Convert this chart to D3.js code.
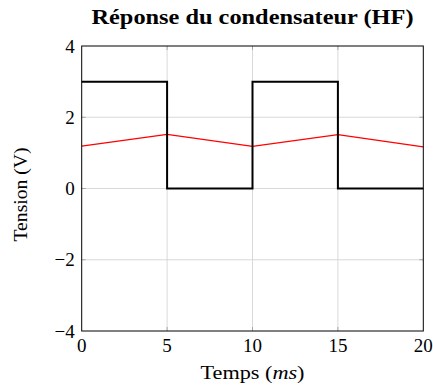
<!DOCTYPE html>
<html>
<head>
<meta charset="utf-8">
<script src="https://cdn.jsdelivr.net/npm/d3@7"></script>
<style>
  body { margin: 0; background: #fff; }
  text { font-family: "Liberation Serif", "Times New Roman", serif; fill: #000; }
</style>
</head>
<body>
<div id="chart"></div>
<script>
var title = "Réponse du condensateur (HF)"
var xTicks = [0, 5, 10, 15, 20]
var yTicks = [-4, -2, 0, 2, 4]

// signal d'entrée (créneau) : [temps ms, tension V]
var squareWave = [[0, 3], [5, 0], [10, 3], [15, 0], [20, 0]]
// tension aux bornes du condensateur
var capVoltage = [[0, 1.19], [5, 1.52], [10, 1.18], [15, 1.51], [20, 1.17]]

var width = 433, height = 387
var margin = {top: 46, right: 9.7, bottom: 56, left: 81.7}

var svg = d3.select("#chart").append("svg")
  .attr("width", width)
  .attr("height", height)

var x = d3.scaleLinear().domain([0, 20]).range([margin.left, width - margin.right])
var y = d3.scaleLinear().domain([-4, 4]).range([height - margin.bottom, margin.top])

var g = svg.append("g")

// grille
g.selectAll(".vgrid").data(xTicks.slice(1, -1)).enter().append("line")
  .attr("x1", d => x(d)).attr("x2", d => x(d))
  .attr("y1", y(4)).attr("y2", y(-4))
  .attr("stroke", "#cfcfcf").attr("stroke-width", 0.8)
g.selectAll(".hgrid").data(yTicks.slice(1, -1)).enter().append("line")
  .attr("y1", d => y(d)).attr("y2", d => y(d))
  .attr("x1", x(0)).attr("x2", x(20))
  .attr("stroke", "#cfcfcf").attr("stroke-width", 0.8)

// graduations (intérieures, des deux côtés)
var tl = 4
xTicks.slice(1, -1).forEach(function(t){
  [[y(-4), y(-4) - tl], [y(4), y(4) + tl]].forEach(function(s){
    g.append("line").attr("x1", x(t)).attr("x2", x(t)).attr("y1", s[0]).attr("y2", s[1])
      .attr("stroke", "#9a9a9a").attr("stroke-width", 0.8)
  })
})
yTicks.slice(1, -1).forEach(function(t){
  [[x(0), x(0) + tl], [x(20), x(20) - tl]].forEach(function(s){
    g.append("line").attr("y1", y(t)).attr("y2", y(t)).attr("x1", s[0]).attr("x2", s[1])
      .attr("stroke", "#9a9a9a").attr("stroke-width", 0.8)
  })
})

var line = d3.line().x(d => x(d[0])).y(d => y(d[1]))

g.append("path").datum(capVoltage)
  .attr("d", line)
  .attr("fill", "none").attr("stroke", "#ff0000").attr("stroke-width", 1.3)

g.append("path").datum(squareWave)
  .attr("d", line.curve(d3.curveStepAfter))
  .attr("fill", "none").attr("stroke", "#000").attr("stroke-width", 2)

// cadre
g.append("rect")
  .attr("x", x(0)).attr("y", y(4))
  .attr("width", x(20) - x(0)).attr("height", y(-4) - y(4))
  .attr("fill", "none").attr("stroke", "#000").attr("stroke-width", 1)

// étiquettes
g.selectAll(".xl").data(xTicks).enter().append("text")
  .attr("x", d => x(d)).attr("y", y(-4) + 21)
  .attr("text-anchor", "middle").style("font-size", "19px")
  .text(d => d)

g.selectAll(".yl").data(yTicks).enter().append("text")
  .attr("x", x(0) - 7).attr("y", d => y(d))
  .attr("dy", "0.35em")
  .attr("text-anchor", "end").style("font-size", "19px")
  .text(d => d < 0 ? "\u2212" + Math.abs(d) : d)

svg.append("text")
  .attr("x", (x(0) + x(20)) / 2).attr("y", 24)
  .attr("text-anchor", "middle")
  .attr("textLength", 322).attr("lengthAdjust", "spacingAndGlyphs")
  .style("font-size", "20px").style("font-weight", "bold")
  .text(title)

var xl = svg.append("text")
  .attr("x", (x(0) + x(20)) / 2).attr("y", 379)
  .attr("text-anchor", "middle").style("font-size", "19px")
  .attr("textLength", 104).attr("lengthAdjust", "spacingAndGlyphs")
xl.append("tspan").text("Temps (")
xl.append("tspan").style("font-style", "italic").text("ms")
xl.append("tspan").text(")")

svg.append("text")
  .attr("transform", "translate(27," + ((y(4) + y(-4)) / 2 + 6) + ") rotate(-90)")
  .attr("text-anchor", "middle").style("font-size", "19px")
  .attr("textLength", 94).attr("lengthAdjust", "spacingAndGlyphs")
  .text("Tension (V)")
</script>
</body>
</html>
